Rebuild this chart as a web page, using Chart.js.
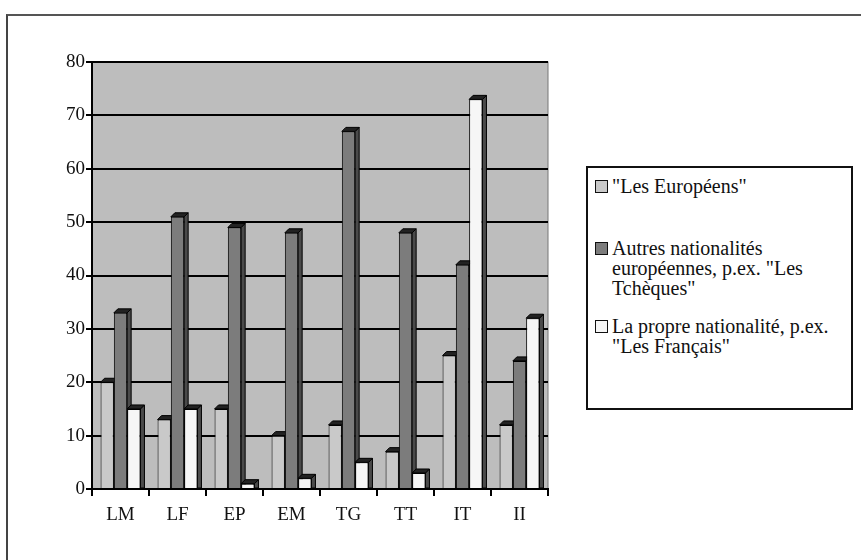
<!DOCTYPE html>
<html>
<head>
<meta charset="utf-8">
<script src="https://cdn.jsdelivr.net/npm/chart.js@4.4.1/dist/chart.umd.min.js"></script>
<style>
  html, body { margin: 0; padding: 0; background: #fff; }
  #wrap { position: relative; width: 861px; height: 560px; overflow: hidden; }
  #frame {
    position: absolute; left: 6px; top: 14px; width: 900px; height: 600px;
    border-left: 2px solid #444; border-top: 2px solid #555;
  }
  #chart { position: absolute; left: 0; top: 0; }
  #legend {
    position: absolute; left: 586px; top: 166px; width: 263px; height: 240px;
    border: 2px solid #111; background: #fff;
    font-family: "Liberation Serif", "Times New Roman", serif; font-size: 20px;
    line-height: 20px; color: #111;
  }
  .item { position: absolute; left: 7px; width: 245px; display: flex; }
  .sw {
    flex: 0 0 auto; width: 11px; height: 11px; border: 1.5px solid #111;
    margin: 4px 4px 0 0;
  }
</style>
</head>
<body>
<div id="wrap">
  <div id="frame"></div>
  <canvas id="chart" width="861" height="560"></canvas>
  <div id="legend"></div>
</div>
<script>
// données du graphique
const categories = ["LM", "LF", "EP", "EM", "TG", "TT", "IT", "II"];
const europeens = [20, 13, 15, 10, 12, 7, 25, 12];
const autres = [33, 51, 49, 48, 67, 48, 42, 24];
const propre = [15, 15, 1, 2, 5, 3, 73, 32];
const seriesLabels = [
  '"Les Européens"',
  'Autres nationalités européennes, p.ex. "Les Tchèques"',
  'La propre nationalité, p.ex. "Les Français"',
];
const yMin = 0, yMax = 80, yStep = 10;

const colors = ["#c9c9c9", "#7c7c7c", "#f6f6f6"];
const legendTops = [8, 70, 148];
const DEPTH = 4;

// fond gris de la zone de tracé
const plotBg = {
  id: "plotBg",
  beforeDraw(chart) {
    const { ctx, chartArea: a } = chart;
    ctx.save();
    ctx.fillStyle = "#bdbdbd";
    ctx.fillRect(a.left, a.top, a.right - a.left, a.bottom - a.top);
    ctx.strokeStyle = "#777";
    ctx.lineWidth = 1;
    ctx.strokeRect(a.left, a.top, a.right - a.left, a.bottom - a.top);
    ctx.restore();
  },
};

// effet 3D : dessus et côté droit de chaque barre
const bar3d = {
  id: "bar3d",
  beforeDatasetsDraw(chart) {
    const ctx = chart.ctx;
    ctx.save();
    ctx.lineWidth = 1;
    ctx.strokeStyle = "#000";
    chart.data.datasets.forEach((ds, i) => {
      chart.getDatasetMeta(i).data.forEach((bar) => {
        const l = bar.x - bar.width / 2;
        const r = bar.x + bar.width / 2;
        const t = bar.y;
        const b = bar.base;
        // côté
        ctx.fillStyle = "#4a4a4a";
        ctx.beginPath();
        ctx.moveTo(r, t);
        ctx.lineTo(r + DEPTH, t - DEPTH);
        ctx.lineTo(r + DEPTH, b);
        ctx.lineTo(r, b);
        ctx.closePath();
        ctx.fill();
        ctx.stroke();
        // dessus
        ctx.fillStyle = "#222";
        ctx.beginPath();
        ctx.moveTo(l, t);
        ctx.lineTo(l + DEPTH, t - DEPTH);
        ctx.lineTo(r + DEPTH, t - DEPTH);
        ctx.lineTo(r, t);
        ctx.closePath();
        ctx.fill();
        ctx.stroke();
      });
    });
    ctx.restore();
  },
};

const tickFont = { family: "'Liberation Serif', 'Times New Roman', serif", size: 19 };

new Chart(document.getElementById("chart").getContext("2d"), {
  type: "bar",
  data: {
    labels: categories,
    datasets: [europeens, autres, propre].map((d, i) => ({
      label: seriesLabels[i],
      data: d,
      backgroundColor: colors[i],
      borderColor: "#000",
      borderWidth: 1,
      categoryPercentage: 0.7,
      barPercentage: 1.0,
    })),
  },
  options: {
    responsive: false,
    animation: false,
    layout: { padding: { left: 0, top: 62, right: 313, bottom: 0 } },
    plugins: { legend: { display: false }, tooltip: { enabled: false } },
    scales: {
      x: {
        grid: { display: true, drawOnChartArea: false, color: "#000", lineWidth: 2, tickLength: 7 },
        border: { color: "#000", width: 2 },
        ticks: { color: "#111", font: tickFont, padding: 8 },
        afterFit: (s) => { s.height = 71; },
      },
      y: {
        min: yMin,
        max: yMax,
        grid: { color: "#000", lineWidth: 2, tickLength: 6 },
        border: { color: "#000", width: 2 },
        ticks: { stepSize: yStep, color: "#111", font: tickFont, padding: 1 },
        afterFit: (s) => { s.width = 92; },
      },
    },
  },
  plugins: [plotBg, bar3d],
});

// légende HTML
const legend = document.getElementById("legend");
seriesLabels.forEach((txt, i) => {
  const item = document.createElement("div");
  item.className = "item";
  item.style.top = legendTops[i] + "px";
  const sw = document.createElement("span");
  sw.className = "sw";
  sw.style.background = colors[i];
  const label = document.createElement("span");
  label.textContent = txt;
  item.appendChild(sw);
  item.appendChild(label);
  legend.appendChild(item);
});
</script>
</body>
</html>
